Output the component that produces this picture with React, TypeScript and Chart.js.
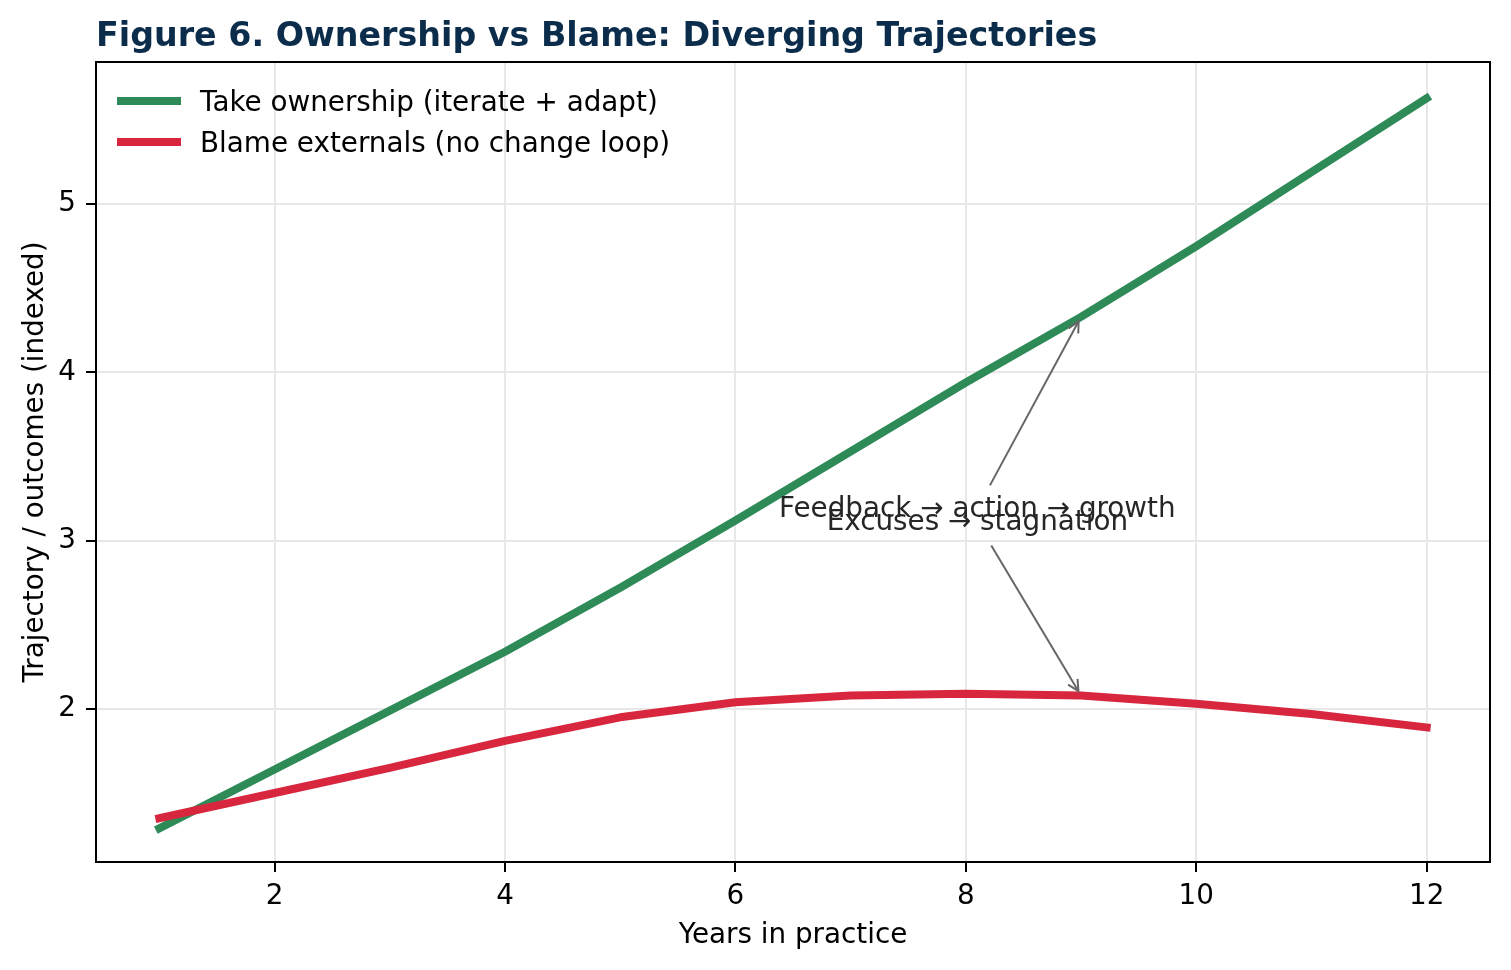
import React, { useEffect, useRef } from "react";
import { Chart, registerables } from "chart.js";

Chart.register(...registerables);

// ---- data ----
const YEARS = [1, 2, 3, 4, 5, 6, 7, 8, 9, 10, 11, 12];
const OWNERSHIP = [1.29, 1.64, 1.99, 2.34, 2.72, 3.12, 3.53, 3.94, 4.33, 4.75, 5.19, 5.63];
const BLAME = [1.35, 1.5, 1.65, 1.81, 1.95, 2.04, 2.08, 2.09, 2.08, 2.03, 1.97, 1.89];
const X_TICKS = [2, 4, 6, 8, 10, 12];
const Y_TICKS = [2, 3, 4, 5];
const SERIES_LABELS = ["Take ownership (iterate + adapt)", "Blame externals (no change loop)"];
const TITLE = "Figure 6. Ownership vs Blame: Diverging Trajectories";
const X_LABEL = "Years in practice";
const Y_LABEL = "Trajectory / outcomes (indexed)";
const ANNOTATION_TEXTS = ["Feedback → action → growth", "Excuses → stagnation"];
const ANNOTATION_TEXT_AT = [
  [8.1, 3.19],
  [8.1, 3.11],
];
const ANNOTATION_POINT_AT = [
  [9, 4.33],
  [9, 2.08],
];

// ---- styles ----
const X_MIN = 0.45;
const X_MAX = 12.55;
const Y_MIN = 1.09;
const Y_MAX = 5.845;
const GREEN = "#2e8b57";
const RED = "#d7263d";
const FONT = "'DejaVu Sans', sans-serif";
const TITLE_COLOR = "#0b2d4b";
const GRID = "#e8e8e8";
const TEXT_SIZE = 27.8;

const decorPlugin = {
  id: "decor",
  afterDatasetsDraw(chart: any) {
    const { ctx, chartArea: a, scales } = chart;
    const xs = scales.x;
    const ys = scales.y;
    ctx.save();

    // annotations
    ANNOTATION_TEXTS.forEach((txt, i) => {
      const tx = xs.getPixelForValue(ANNOTATION_TEXT_AT[i][0]);
      const ty = ys.getPixelForValue(ANNOTATION_TEXT_AT[i][1]);
      const px0 = xs.getPixelForValue(ANNOTATION_POINT_AT[i][0]);
      const py0 = ys.getPixelForValue(ANNOTATION_POINT_AT[i][1]);
      const dx = px0 - tx;
      const dy = py0 - ty;
      const len = Math.hypot(dx, dy);
      const ux = dx / len;
      const uy = dy / len;
      const t0 = 23.3 / Math.abs(uy);
      const sx = tx + ux * t0;
      const sy = ty + uy * t0;
      const ex = px0 - ux * 5;
      const ey = py0 - uy * 5;
      ctx.strokeStyle = "#666666";
      ctx.lineWidth = 2;
      ctx.lineCap = "butt";
      ctx.beginPath();
      ctx.moveTo(sx, sy);
      ctx.lineTo(ex, ey);
      ctx.stroke();
      // open arrow head
      const hl = 11;
      const hw = 5.5;
      const bx = ex - ux * hl;
      const by = ey - uy * hl;
      ctx.lineJoin = "miter";
      ctx.beginPath();
      ctx.moveTo(bx - uy * hw, by + ux * hw);
      ctx.lineTo(ex, ey);
      ctx.lineTo(bx + uy * hw, by - ux * hw);
      ctx.stroke();

      ctx.fillStyle = "#262626";
      ctx.font = `${TEXT_SIZE}px ${FONT}`;
      ctx.textAlign = "center";
      ctx.textBaseline = "alphabetic";
      ctx.fillText(txt, tx, ty + 8.3);
    });

    // frame
    ctx.strokeStyle = "#000";
    ctx.lineWidth = 2;
    ctx.strokeRect(a.left, a.top, a.right - a.left, a.bottom - a.top);

    // legend
    const colors = [GREEN, RED];
    SERIES_LABELS.forEach((lab, i) => {
      const yy = a.top + 39 + i * 41;
      ctx.strokeStyle = colors[i];
      ctx.lineWidth = 8;
      ctx.lineCap = "butt";
      ctx.beginPath();
      ctx.moveTo(a.left + 21, yy);
      ctx.lineTo(a.left + 85, yy);
      ctx.stroke();
      ctx.fillStyle = "#000";
      ctx.font = `${TEXT_SIZE}px ${FONT}`;
      ctx.textAlign = "left";
      ctx.textBaseline = "alphabetic";
      ctx.fillText(lab, a.left + 104, yy + 10);
    });

    // title
    ctx.fillStyle = TITLE_COLOR;
    ctx.font = `bold 33.3px ${FONT}`;
    ctx.textAlign = "left";
    ctx.textBaseline = "alphabetic";
    ctx.fillText(TITLE, a.left, 46);

    ctx.restore();
  },
};

export default function App() {
  const ref = useRef<HTMLCanvasElement | null>(null);

  useEffect(() => {
    document.body.style.margin = "0";
    const canvas = ref.current;
    if (!canvas) return;
    const tickFont = { family: FONT, size: TEXT_SIZE };
    const chart = new Chart(canvas, {
      type: "line",
      data: {
        datasets: [
          {
            label: SERIES_LABELS[0],
            data: YEARS.map((x, i) => ({ x, y: OWNERSHIP[i] })),
            borderColor: GREEN,
            backgroundColor: GREEN,
            borderWidth: 8,
            pointRadius: 0,
            borderCapStyle: "square",
            borderJoinStyle: "round",
            tension: 0,
            fill: false,
            order: 1,
          },
          {
            label: SERIES_LABELS[1],
            data: YEARS.map((x, i) => ({ x, y: BLAME[i] })),
            borderColor: RED,
            backgroundColor: RED,
            borderWidth: 8,
            pointRadius: 0,
            borderCapStyle: "square",
            borderJoinStyle: "round",
            tension: 0,
            fill: false,
            order: 0,
          },
        ],
      },
      options: {
        animation: false,
        responsive: false,
        devicePixelRatio: 1,
        layout: { padding: { top: 62, right: 21, left: 0, bottom: 0 } },
        plugins: {
          legend: { display: false },
          title: { display: false },
          tooltip: { enabled: false },
        },
        scales: {
          x: {
            type: "linear",
            min: X_MIN,
            max: X_MAX,
            afterBuildTicks: (s: any) => {
              s.ticks = X_TICKS.map((v) => ({ value: v }));
            },
            afterFit: (s: any) => {
              s.height = 108;
            },
            grid: { color: GRID, lineWidth: 2, tickColor: "#000", tickWidth: 2, tickLength: 10, drawTicks: true },
            border: { display: false },
            ticks: { font: tickFont, color: "#000", padding: 8, maxRotation: 0, autoSkip: false },
            title: {
              display: true,
              text: X_LABEL,
              font: { family: FONT, size: TEXT_SIZE },
              color: "#000",
              padding: { top: 0, bottom: 18 },
            },
          },
          y: {
            type: "linear",
            min: Y_MIN,
            max: Y_MAX,
            afterBuildTicks: (s: any) => {
              s.ticks = Y_TICKS.map((v) => ({ value: v }));
            },
            afterFit: (s: any) => {
              s.width = 96;
            },
            grid: { color: GRID, lineWidth: 2, tickColor: "#000", tickWidth: 2, tickLength: 10, drawTicks: true },
            border: { display: false },
            ticks: { font: tickFont, color: "#000", padding: 10, autoSkip: false },
            title: {
              display: true,
              text: Y_LABEL,
              font: { family: FONT, size: TEXT_SIZE },
              color: "#000",
              padding: { top: 19, bottom: 0 },
            },
          },
        },
      },
      plugins: [decorPlugin],
    } as any);
    return () => chart.destroy();
  }, []);

  return (
    <div style={{ width: 1511, height: 970, background: "#fff" }}>
      <canvas ref={ref} width={1511} height={970} style={{ display: "block" }} />
    </div>
  );
}
